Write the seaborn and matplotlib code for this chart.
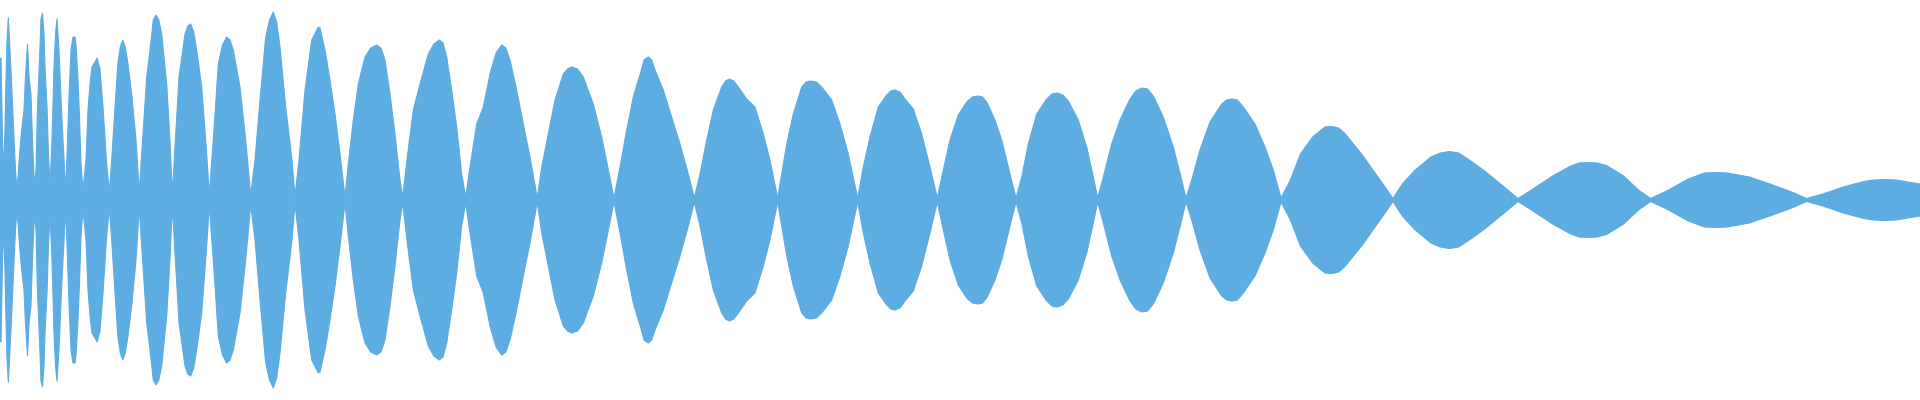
import numpy as np
import pandas as pd
import matplotlib
matplotlib.use("Agg")
import matplotlib.pyplot as plt
import seaborn as sns

# Waveform envelope (half-height, in pixel-like units)
x_early = [0, 1, 2.5, 3.5, 5, 6, 7, 8.3, 9.5, 11, 12.5, 14, 15.5, 16.5, 18, 19.5, 21, 22.5,
           24, 25.5, 27.5, 29, 31, 32.5, 34, 35, 36, 37.5, 39.5, 41, 42.5, 44, 45, 47, 48.5,
           50, 52, 54, 55.5, 57, 59, 60.5, 62, 64, 65.5, 67, 69, 71, 73, 75, 76, 78, 79.5,
           81, 83, 86, 88, 90, 92, 95, 97, 100, 103, 106.7, 109.3]
amp_early = [140, 142, 60, 30, 70, 120, 160, 182, 160, 130, 95, 62, 30, 13, 23, 45, 63, 78,
             90, 124, 156, 124, 105, 60, 24, 18, 30, 93, 140, 181, 187, 165, 133, 93, 45,
             13, 60, 133, 166, 181, 150, 113, 80, 40, 10, 43, 103, 150, 163, 163, 156, 120, 83,
             36, 10, 40, 90, 116, 133, 138, 142, 131, 93, 36, 8]

x_mid = [111.7, 115, 118, 122.7, 128, 132, 136, 139.3,
         141.7, 146.7, 150, 153.3, 156, 161.7, 166.7, 170, 172.3,
         175, 179, 185, 190.7, 196.7, 201.7, 206, 209.3,
         213.3, 218.3, 226.7, 233.3, 240, 245.7, 250.7,
         255, 260, 265.7, 273.3, 280, 285.7, 291.7, 295,
         299, 305, 311.7, 318.3, 320, 325, 330, 335, 340, 345,
         348.3, 353.3, 358.3, 365, 376.7, 385, 390, 395, 400, 402.7,
         407.3, 413.3, 420, 428.3, 439.3, 446.7, 451.7, 456.7, 461.7, 465.7,
         470, 476.7, 483.3, 490, 501.7, 510, 516.7, 523.3, 530, 537.3,
         541.7, 548.3, 555, 563.3, 571.7, 583.3, 593.3, 601.7, 608.3, 614,
         620, 626.7, 633.3, 638.3, 640, 648.3, 655, 663.3, 671.7, 680, 688.3, 694.3]
amp_mid = [40, 93, 138, 160, 136, 103, 60, 8,
           46, 123, 150, 180, 185, 166, 116, 60, 6,
           53, 123, 166, 176, 150, 113, 56, 6,
           60, 136, 163, 150, 113, 60, 5,
           40, 100, 163, 188, 153, 93, 43, 4,
           40, 110, 160, 173, 172, 150, 120, 86, 46, 3,
           36, 80, 116, 143, 155, 140, 106, 66, 20, 3,
           43, 90, 116, 146, 160, 143, 110, 73, 26, 3,
           33, 76, 93, 126, 155, 140, 110, 76, 43, 2,
           33, 66, 100, 126, 133, 123, 96, 63, 30, 2,
           33, 70, 103, 120, 125, 143, 130, 110, 83, 56, 26, 2]

x_late = [700, 706.7, 713.3, 721.7, 729.3, 738.3, 746.7, 755, 763.3, 770, 777.7,
          781.7, 786.7, 793.3, 801.7, 810.7, 821.7, 831.7, 840, 848.3, 857.7,
          863.3, 870, 878.3, 886.7, 895, 905, 913.3, 921.7, 930, 937.3,
          943.3, 950, 958.3, 966.7, 978.3, 986.7, 995, 1001.7, 1008.3, 1016,
          1021.7, 1028.3, 1036.7, 1046.7, 1057.3, 1068.3, 1078.3, 1086.7, 1093.3, 1097.7,
          1103.3, 1111.7, 1120, 1130, 1141.7, 1153.3, 1163.3, 1173.3, 1181.7, 1186,
          1191.7, 1200, 1210, 1221.7, 1231.7, 1243.3, 1255, 1265, 1273.3, 1281,
          1290.2, 1300.4, 1312.7, 1324.9, 1332.2, 1345.3, 1361.6, 1378, 1393,
          1402.4, 1414.7, 1431, 1449.4, 1467.8, 1484, 1502.4, 1518,
          1533, 1553.5, 1569.8, 1588.2, 1606.5, 1622.9, 1639.2, 1650.6,
          1667.8, 1688.2, 1704.5, 1716, 1727, 1749.4, 1774, 1794.3, 1806.5,
          1822.9, 1843.3, 1863.7, 1874, 1885, 1896, 1916.7, 1920]
amp_late = [26, 60, 90, 113, 121, 113, 101, 93, 66, 40, 2,
            26, 56, 86, 113, 119, 113, 100, 76, 46, 2,
            33, 63, 93, 105, 110, 101, 91, 66, 33, 2,
            30, 60, 85, 98, 104, 98, 80, 60, 33, 2,
            23, 56, 86, 101, 107, 99, 80, 53, 23, 2,
            23, 56, 80, 101, 112, 104, 83, 53, 20, 2,
            20, 50, 78, 96, 101, 93, 76, 53, 30, 2,
            19.5, 46, 63, 73, 73.5, 66, 46, 23, 1.5,
            16, 29.5, 43, 48.5, 41, 29.5, 14.5, 1.5,
            11, 24.5, 33.5, 37.5, 34.5, 24.5, 9.5, 1.5,
            9.5, 21, 27, 27.5, 27, 23, 14.5, 7, 1.5,
            6, 13, 18.5, 20, 20.5, 20, 16.5, 16]

# Extra readings near the rounded lobe crests
x_crest = [120.3, 125.3, 158.8, 187.8, 193.7, 222.5, 230, 269.5, 276.7, 370.8, 381,
           433.8, 443, 496, 505.8, 567.5, 577.5, 644, 651.7, 725.5, 733.8, 806.2, 816.2,
           890.8, 900, 972.5, 982.5, 1052, 1062.8, 1135.8, 1147.5, 1226.7, 1237.5,
           1338.7, 1440.2, 1458.6, 1579, 1597.3]
amp_crest = [153, 153, 180, 174, 168, 155, 160, 180, 178, 152, 152,
             156, 157, 147, 152, 131, 131, 140, 140, 119, 119, 118, 118,
             109, 108, 103, 103, 106, 105, 109, 111, 100, 100,
             72, 47, 47, 37, 37]

COLOR = "#5DACE2"

df = pd.DataFrame({
    "x": x_early + x_mid + x_late + x_crest,
    "amp": amp_early + amp_mid + amp_late + amp_crest,
}).sort_values("x").reset_index(drop=True)
df["neg"] = -df["amp"]

sns.set_theme(style="white")
fig = plt.figure(figsize=(19.2, 4.0), dpi=100)
ax = fig.add_axes([0, 0, 1, 1])

ax.fill_between(df["x"], df["neg"], df["amp"], color=COLOR, linewidth=0)
sns.lineplot(data=df, x="x", y="amp", ax=ax, color=COLOR, linewidth=0.8, sort=False)
sns.lineplot(data=df, x="x", y="neg", ax=ax, color=COLOR, linewidth=0.8, sort=False)

ax.set_xlim(0, 1920)
ax.set_ylim(-200, 200)
ax.axis("off")
fig.savefig("out.png", dpi=100, facecolor="white")
